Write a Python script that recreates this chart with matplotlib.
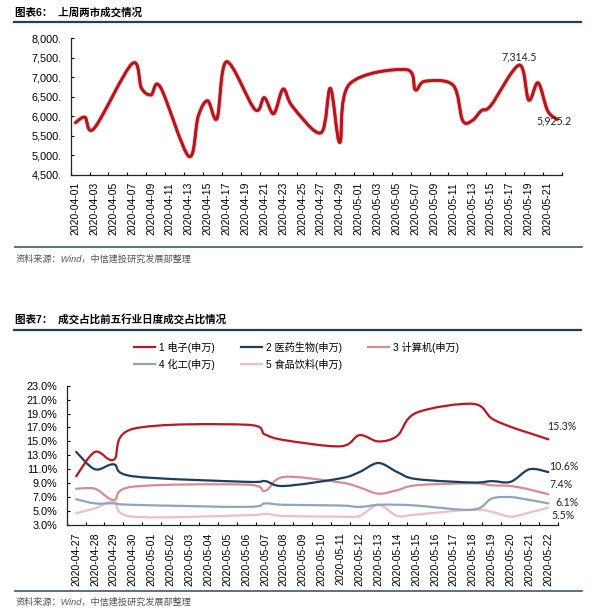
import numpy as np
import pandas as pd
import matplotlib
matplotlib.use("Agg")
import matplotlib.pyplot as plt
from matplotlib.path import Path
from matplotlib.patches import PathPatch
from matplotlib.lines import Line2D
import matplotlib.patheffects as pe

plt.rcParams['font.family'] = ['Liberation Sans', 'Noto Sans CJK SC', 'DejaVu Sans']

# ---- chart 1: 两市成交 (亿元) ----
dates1 = ['2020-04-01', '2020-04-02', '2020-04-03', '2020-04-07', '2020-04-08',
          '2020-04-09', '2020-04-10', '2020-04-13', '2020-04-14', '2020-04-15',
          '2020-04-16', '2020-04-17', '2020-04-20', '2020-04-21', '2020-04-22',
          '2020-04-23', '2020-04-24', '2020-04-27', '2020-04-28', '2020-04-29',
          '2020-04-30', '2020-05-06', '2020-05-07', '2020-05-08', '2020-05-11',
          '2020-05-12', '2020-05-13', '2020-05-14', '2020-05-15', '2020-05-18',
          '2020-05-19', '2020-05-20', '2020-05-21', '2020-05-22']
turnover = [5840, 5980, 5700, 7350, 6720,
            6550, 6750, 4980, 6000, 6400,
            5950, 7400, 6180, 6480, 6070,
            6700, 6250, 5580, 6720, 5330,
            6820, 7200, 6680, 6900, 6800,
            5900, 5890, 6150, 6280, 7314.5,
            6420, 6860, 6150, 5925.2]
labeled1 = ['2020-05-18', '2020-05-22']

# ---- chart 2: 前五行业成交占比 (%) ----
dates2 = ['2020-04-27', '2020-04-28', '2020-04-29', '2020-04-30', '2020-05-06',
          '2020-05-07', '2020-05-08', '2020-05-11', '2020-05-12', '2020-05-13',
          '2020-05-14', '2020-05-15', '2020-05-18', '2020-05-19', '2020-05-20',
          '2020-05-21', '2020-05-22']
names = ['1 电子(申万)', '2 医药生物(申万)', '3 计算机(申万)', '4 化工(申万)', '5 食品饮料(申万)']
electronics = [10.0, 13.5, 12.4, 16.8, 17.4, 16.0, 15.2, 14.3, 15.9, 15.0, 15.8, 19.1, 20.4, 18.3, 17.1, 16.2, 15.3]
pharma = [13.5, 11.0, 11.7, 10.0, 9.2, 9.3, 8.6, 9.7, 10.6, 11.9, 10.6, 9.6, 9.1, 9.3, 9.2, 11.0, 10.6]
computer = [8.2, 8.2, 6.6, 8.5, 8.8, 7.9, 9.9, 9.1, 8.4, 7.5, 8.0, 8.7, 9.0, 8.7, 8.6, 8.1, 7.4]
chemical = [6.7, 6.1, 6.1, 5.9, 5.6, 6.1, 5.9, 5.8, 5.6, 5.9, 5.9, 5.8, 5.2, 6.8, 7.0, 6.6, 6.1]
food = [4.7, 5.4, 6.3, 4.2, 4.4, 4.6, 4.3, 4.2, 4.3, 5.9, 4.3, 4.5, 5.2, 4.9, 4.2, 4.8, 5.5]
series2 = [electronics, pharma, computer, chemical, food]
colors2 = ['#C0141E', '#1B3F5E', '#D98A93', '#8DA6BE', '#F3BCC4']
# end label offsets in px (dx, dy up)
label_off2 = [(13, 12.6), (16, 5.4), (13, 9.4), (19, 0.7), (15, -8)]

W, H = 600, 614
fig = plt.figure(figsize=(W / 100, H / 100), dpi=100)


def box(l, t, r, b):
    return [l / W, 1 - b / H, (r - l) / W, (b - t) / H]


def hline(y, x0, x1, color, lw):
    fig.add_artist(Line2D([x0 / W, x1 / W], [1 - y / H] * 2, color=color, lw=lw))


def smooth_path(x, y):
    # excel-like smoothed line: cubic bezier through the points
    pts = np.column_stack([x, y]).astype(float)
    n = len(pts)
    verts = [pts[0]]
    codes = [Path.MOVETO]
    for i in range(n - 1):
        p0 = pts[i - 1] if i > 0 else pts[i]
        p1, p2 = pts[i], pts[i + 1]
        p3 = pts[i + 2] if i + 2 < n else pts[i + 1]
        verts += [p1 + (p2 - p0) / 6, p2 - (p3 - p1) / 6, p2]
        codes += [Path.CURVE4] * 3
    return Path(verts, codes)


def style_axes(ax):
    for s in ['top', 'right']:
        ax.spines[s].set_visible(False)
    for s in ['left', 'bottom']:
        ax.spines[s].set_color('#222222')
        ax.spines[s].set_linewidth(0.9)
    ax.tick_params(axis='y', direction='in', length=2.5, width=0.8, labelsize=7.8, pad=6.3)
    ax.tick_params(axis='x', which='major', length=0, labelsize=7.5, labelrotation=90)
    ax.tick_params(axis='x', which='minor', direction='in', length=2.5, width=0.8)


# ---------- chart 1 ----------
fig.text(15 / W, 1 - 12.7 / H, '图表6：  上周两市成交情况', fontsize=7.6, weight='bold',
         ha='left', va='center')
hline(21.7, 14, 581, '#1F3F5C', 1.6)

start1 = pd.Timestamp('2020-04-01')
d1 = (pd.to_datetime(dates1) - start1).days.values
ax1 = fig.add_axes(box(70.7, 38.3, 561.7, 175))
style_axes(ax1)
ax1.set_xlim(-0.5, 51.5)
ax1.set_ylim(4500, 8000)
yt1 = np.arange(4500, 8001, 500)
ax1.set_yticks(yt1)
ax1.set_yticklabels([f'{v:,}.' for v in yt1])
xt1 = np.arange(0, 51, 2)
ax1.set_xticks(xt1)
ax1.set_xticklabels([(start1 + pd.Timedelta(days=int(k))).strftime('%Y-%m-%d') for k in xt1])
ax1.set_xticks(np.arange(-0.5, 52, 2), minor=True)
ax1.tick_params(axis='x', which='major', pad=5)

ax1.add_patch(PathPatch(smooth_path(d1, turnover), fill=False, edgecolor='#B8141C', lw=1.9,
                        capstyle='round', joinstyle='round',
                        path_effects=[pe.withStroke(linewidth=3.2, foreground='#F2B3B3'), pe.Normal()]))
for ds, off in zip(labeled1, [(0, 5.6), (-2, -1.5)]):
    i = dates1.index(ds)
    ax1.annotate(f'{turnover[i]:,.1f}', (d1[i], turnover[i]), xytext=off, textcoords='offset points',
                 ha='center', va='center', fontsize=7.6, family='Lato', color='#222222')

hline(247.3, 15, 582, '#3E586E', 1.2)
fig.text(16 / W, 1 - 259 / H, '资料来源：Wind，中信建投研究发展部整理', fontsize=6.6,
         color='#555555', ha='left', va='center', style='italic')

# ---------- chart 2 ----------
fig.text(15 / W, 1 - 319.3 / H, '图表7：  成交占比前五行业日度成交占比情况', fontsize=7.6,
         weight='bold', ha='left', va='center')
hline(330, 14, 581, '#1F3F5C', 1.6)

start2 = pd.Timestamp('2020-04-27')
d2 = (pd.to_datetime(dates2) - start2).days.values
ax2 = fig.add_axes(box(66.7, 385.7, 557.8, 525))
style_axes(ax2)
ax2.set_xlim(-0.5, 25.5)
ax2.set_ylim(3, 23)
yt2 = np.arange(3, 24, 2)
ax2.set_yticks(yt2)
ax2.set_yticklabels([f'{v:.1f}%' for v in yt2])
ax2.tick_params(axis='y', pad=6.8)
xt2 = np.arange(0, 26)
ax2.set_xticks(xt2)
ax2.set_xticklabels([(start2 + pd.Timedelta(days=int(k))).strftime('%Y-%m-%d') for k in xt2])
ax2.set_xticks(np.arange(-0.5, 26, 1), minor=True)
ax2.tick_params(axis='x', which='major', pad=5.5)

handles = []
for vals, c, off in zip(series2[::-1], colors2[::-1], label_off2[::-1]):
    ax2.add_patch(PathPatch(smooth_path(d2, vals), fill=False, edgecolor=c, lw=1.6,
                            capstyle='round', joinstyle='round'))
    ax2.annotate(f'{vals[-1]:.1f}%', (d2[-1], vals[-1]), xytext=(off[0] * 0.72, off[1] * 0.72),
                 textcoords='offset points', ha='center', va='center', fontsize=7.6,
                 family='Lato', color='#222222')
for c, n in zip(colors2, names):
    handles.append(Line2D([], [], color=c, lw=1.6, label=n))

order = [0, 3, 1, 4, 2]
fig.legend([handles[k] for k in order], [names[k] for k in order], ncol=3, frameon=False,
           loc='upper left', bbox_to_anchor=(134 / W, 1 - 342 / H), fontsize=7.3,
           handlelength=2.1, handletextpad=0.35, columnspacing=2.6, labelspacing=0.55,
           borderpad=0, borderaxespad=0)

hline(590.7, 15, 582, '#3E586E', 1.2)
fig.text(16 / W, 1 - 601.7 / H, '资料来源：Wind，中信建投研究发展部整理', fontsize=6.6,
         color='#555555', ha='left', va='center', style='italic')

fig.savefig('out.png', dpi=100, facecolor='white')
